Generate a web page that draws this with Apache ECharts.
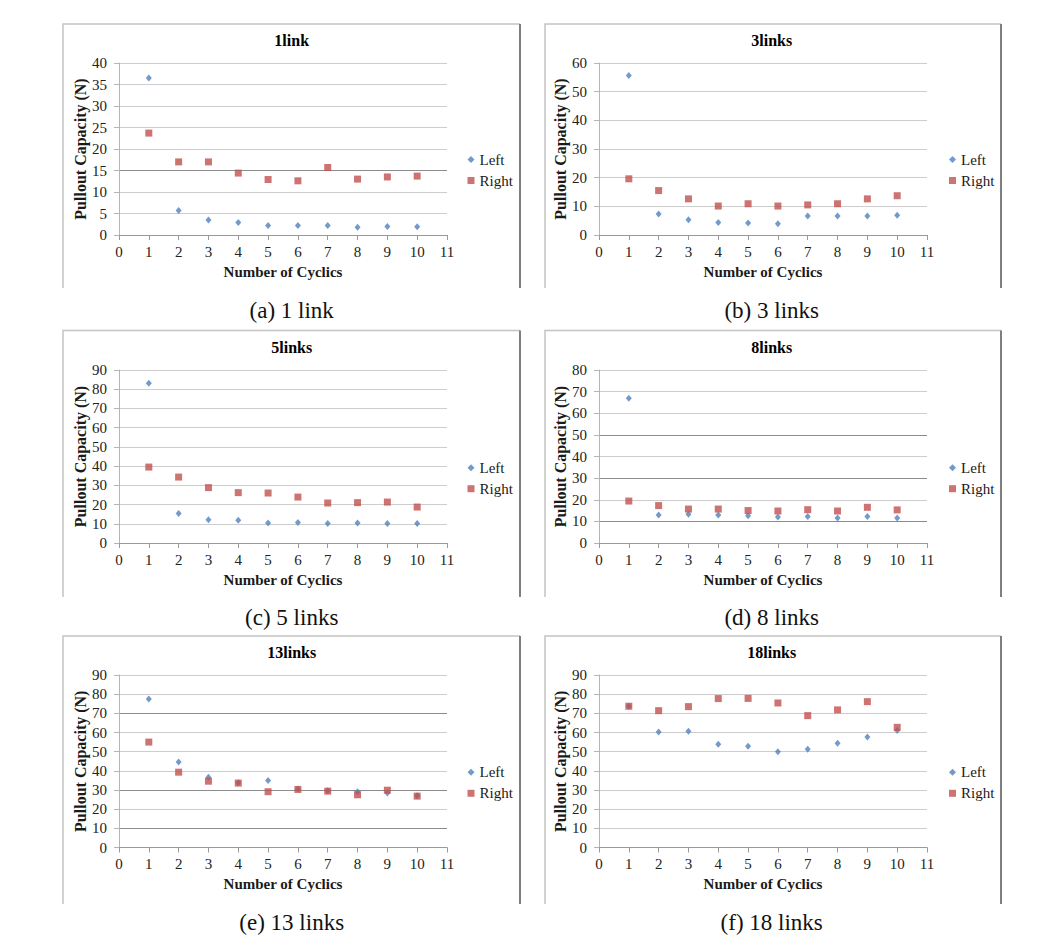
<!DOCTYPE html>
<html>
<head>
<meta charset="utf-8">
<script src="https://cdn.jsdelivr.net/npm/echarts@6/dist/echarts.min.js"></script>
<style>
html,body{margin:0;padding:0;background:#fff;}
#c{width:1058px;height:952px;}
</style>
</head>
<body>
<div id="c"></div>
<script>
// ---- data ----
const cycles = [1, 2, 3, 4, 5, 6, 7, 8, 9, 10];
const chartTitles = ['1link', '3links', '5links', '8links', '13links', '18links'];
const captions = ['(a) 1 link', '(b) 3 links', '(c) 5 links', '(d) 8 links', '(e) 13 links', '(f) 18 links'];
const seriesNames = ['Left', 'Right'];
const xMaxTick = 11;
const yMaxTicks = [40, 60, 90, 80, 90, 90];
const yTickSteps = [5, 10, 10, 10, 10, 10];

const left1  = [36.5, 5.7, 3.5, 2.9, 2.2, 2.2, 2.2, 1.8, 2.0, 1.9];
const right1 = [23.7, 17.0, 17.0, 14.4, 12.9, 12.6, 15.7, 13.0, 13.5, 13.7];
const left3  = [55.6, 7.3, 5.3, 4.4, 4.2, 3.9, 6.6, 6.6, 6.6, 6.9];
const right3 = [19.6, 15.5, 12.6, 10.1, 10.9, 10.1, 10.5, 10.9, 12.6, 13.7];
const left5  = [83.1, 15.3, 12.1, 11.8, 10.4, 10.7, 10.1, 10.4, 10.1, 10.1];
const right5 = [39.5, 34.3, 28.8, 26.2, 26.0, 23.9, 20.8, 21.0, 21.3, 18.7];
const left8  = [66.9, 12.9, 13.3, 12.9, 12.6, 12.0, 12.3, 11.6, 12.3, 11.6];
const right8 = [19.4, 17.3, 15.7, 15.7, 15.0, 14.8, 15.4, 14.8, 16.5, 15.3];
const left13  = [77.5, 44.6, 36.6, 33.8, 35.0, 30.5, 29.6, 29.1, 28.4, 27.0];
const right13 = [55.0, 39.3, 34.6, 33.6, 29.1, 30.3, 29.4, 27.5, 29.9, 26.8];
const left18  = [73.7, 60.3, 60.6, 53.9, 52.8, 49.9, 51.3, 54.4, 57.7, 61.0];
const right18 = [73.7, 71.4, 73.5, 77.7, 77.8, 75.4, 68.8, 71.8, 76.1, 62.7];

const leftData = [left1, left3, left5, left8, left13, left18];
const rightData = [right1, right3, right5, right8, right13, right18];

// gridlines that appear darker in the reference image
const darkGridValues = [[15], [], [], [50, 30, 10], [70, 30, 10], []];

// ---- layout (styles / positions) ----
const colPlotLeft = [119, 599];
const plotWidth = 328;
const rowPlotTop = [63, 370, 675];
const rowPlotHeight = [172, 173, 172.5];
const colFrame = [[63, 520], [545, 1001]];
const rowFrame = [[24, 288], [330.5, 597], [636, 904]];
const colCenter = [291.7, 771.7];
const rowTitleY = [40.7, 347.7, 652.7];
const rowCaptionY = [310, 617, 922];
const colLegendX = [471, 952.5];
const rowLegendY = [159.5, 467.7, 772.3];

const serif = "Liberation Serif, serif";
const blue = '#4F81BD';
const red = '#C0504D';

const grids = [], xAxes = [], yAxes = [], series = [], legends = [], graphics = [];

for (let i = 0; i < 6; i++) {
  const col = i % 2, row = Math.floor(i / 2);
  grids.push({
    left: colPlotLeft[col], top: rowPlotTop[row],
    width: plotWidth, height: rowPlotHeight[row], containLabel: false
  });
  xAxes.push({
    type: 'value', gridIndex: i, min: 0, max: xMaxTick, interval: 1,
    name: 'Number of Cyclics', nameLocation: 'middle', nameGap: 29,
    nameTextStyle: { fontFamily: serif, fontWeight: 'bold', fontSize: 15, color: '#1a1a1a' },
    axisLine: { show: true, onZero: false, lineStyle: { color: '#9a9a9a', width: 1 } },
    axisTick: { show: true, inside: false, length: 5, lineStyle: { color: '#9a9a9a' } },
    axisLabel: { fontFamily: serif, fontSize: 15, color: '#222', margin: 9 },
    splitLine: { show: false }
  });
  const tickVals = [];
  for (let v = 0; v <= yMaxTicks[i]; v += yTickSteps[i]) tickVals.push(v);
  const lineColors = tickVals.map(v => darkGridValues[i].indexOf(v) >= 0 ? '#8c8c8c' : '#cdcdcd');
  yAxes.push({
    type: 'value', gridIndex: i, min: 0, max: yMaxTicks[i], interval: yTickSteps[i],
    name: 'Pullout Capacity (N)', nameLocation: 'middle', nameGap: 29, nameRotate: 90,
    nameTextStyle: { fontFamily: serif, fontWeight: 'bold', fontSize: 16, color: '#1a1a1a' },
    axisLine: { show: true, lineStyle: { color: '#b5b5b5', width: 1 } },
    axisTick: { show: true, inside: false, length: 5, lineStyle: { color: '#b5b5b5' } },
    axisLabel: { fontFamily: serif, fontSize: 15, color: '#222', margin: 12 },
    splitLine: { show: true, showMinLine: true, showMaxLine: true, lineStyle: { color: lineColors, width: 1 } }
  });
  series.push({
    name: seriesNames[0], type: 'scatter', xAxisIndex: i, yAxisIndex: i,
    symbol: 'diamond', symbolSize: [6, 7], z: 3,
    itemStyle: { color: blue }, silent: true,
    data: cycles.map((c, j) => [c, leftData[i][j]])
  });
  series.push({
    name: seriesNames[1], type: 'scatter', xAxisIndex: i, yAxisIndex: i,
    symbol: 'rect', symbolSize: 7, z: 4,
    itemStyle: { color: red }, silent: true,
    data: cycles.map((c, j) => [c, rightData[i][j]])
  });
  legends.push({
    orient: 'vertical', left: colLegendX[col] - 3.5, top: rowLegendY[row] - 7.5,
    padding: 0, itemWidth: 7, itemHeight: 7, itemGap: 6, selectedMode: false,
    textStyle: { fontFamily: serif, fontSize: 15, color: '#1a1a1a' },
    data: [{ name: seriesNames[0], icon: 'diamond' }, { name: seriesNames[1], icon: 'rect' }]
  });
  // frame
  const [fx0, fx1] = colFrame[col];
  const [fy0, fy1] = rowFrame[row];
  graphics.push({
    type: 'polyline', silent: true,
    shape: { points: [[fx0, fy1], [fx0, fy0], [fx1, fy0]] },
    style: { stroke: '#c4c4c4', lineWidth: 1.5, fill: null }
  });
  graphics.push({
    type: 'line', silent: true,
    shape: { x1: fx1, y1: fy0, x2: fx1, y2: fy1 },
    style: { stroke: '#7f7f7f', lineWidth: 2 }
  });
  // chart title
  graphics.push({
    type: 'text', x: colCenter[col], y: rowTitleY[row], silent: true,
    style: {
      text: chartTitles[i], textAlign: 'center', textVerticalAlign: 'middle',
      align: 'center', verticalAlign: 'middle',
      font: 'bold 16px ' + serif, fill: '#000'
    }
  });
  // caption
  graphics.push({
    type: 'text', x: colCenter[col], y: rowCaptionY[row], silent: true,
    style: {
      text: captions[i], textAlign: 'center', textVerticalAlign: 'middle',
      align: 'center', verticalAlign: 'middle',
      font: '23px ' + serif, fill: '#111'
    }
  });
}

const chart = echarts.init(document.getElementById('c'), null, { renderer: 'svg', width: 1058, height: 952 });
chart.setOption({
  animation: false,
  backgroundColor: '#fff',
  grid: grids,
  xAxis: xAxes,
  yAxis: yAxes,
  legend: legends,
  series: series,
  graphic: { elements: graphics }
});
</script>
</body>
</html>
